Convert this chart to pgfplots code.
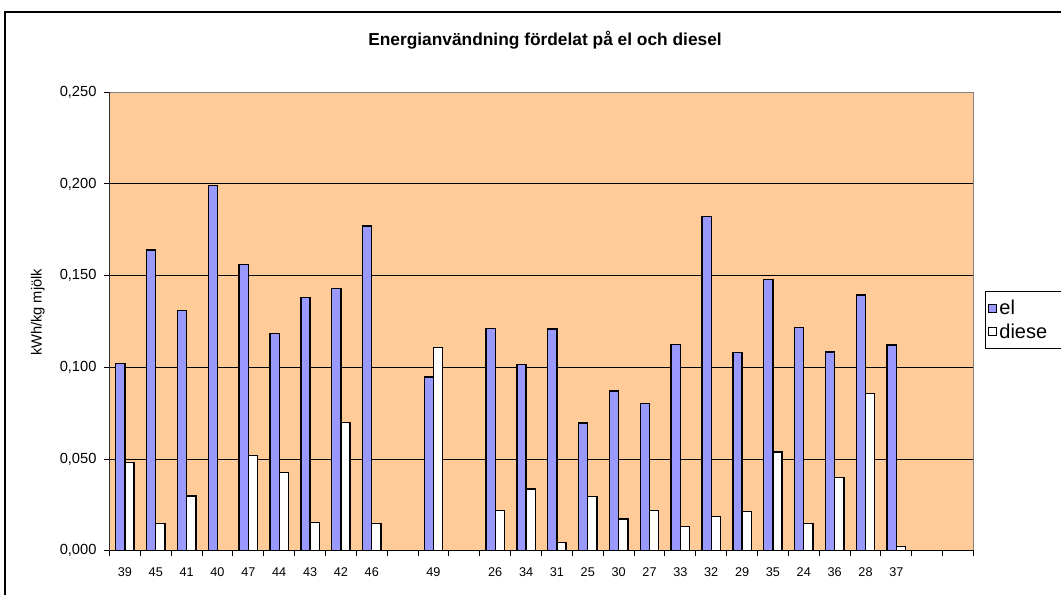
\documentclass[border=0pt]{standalone}
\usepackage{fontspec}
\setmainfont{Liberation Sans}
\usepackage{pgfplots}
\pgfplotsset{compat=1.18}
\definecolor{peach}{HTML}{FFCC99}
\definecolor{elblue}{HTML}{9999FF}
\definecolor{frame}{HTML}{808080}
\begin{document}
\begin{tikzpicture}
\clip (0pt,0pt) rectangle (795.75pt,445.5pt);
\path[use as bounding box] (0pt,0pt) rectangle (795.75pt,445.5pt);
\fill[white] (0pt,0pt) rectangle (795.75pt,445.5pt);
\draw[black, line width=1.1pt] (3.75pt,-20pt) -- (3.75pt,436.5pt) -- (820pt,436.5pt);
\node[font=\bfseries\fontsize{13}{15}\selectfont] at (408.75pt,415.5pt) {Energianvändning fördelat på el och diesel};
\begin{axis}[
  at={(82.125pt,32.4pt)}, anchor=south west,
  width=648pt, height=343.9pt, scale only axis,
  xmin=-0.5, xmax=27.5, ymin=0, ymax=0.25,
  ybar=0pt, bar width=6.9pt,
  axis background/.style={fill=peach},
  axis line style={draw=frame, line width=0.75pt},
  tick pos=left, tick align=outside,
  xtick={0,...,27},
  xticklabels={39,45,41,40,47,44,43,42,46,,49,,26,34,31,25,30,27,33,32,29,35,24,36,28,37,,},
  major x tick style={draw=none},
  minor xtick={-0.5,0.5,...,27.5},
  minor tick length=3.75pt,
  minor x tick style={black, line width=0.75pt},
  xticklabel style={font=\fontsize{9.5}{10}\selectfont, anchor=base, yshift=-15.6pt},
  ytick={0,0.05,0.1,0.15,0.2,0.25},
  major tick length=3.75pt,
  major y tick style={black, line width=0.75pt},
  yticklabel style={font=\fontsize{11}{12}\selectfont, xshift=-2.5pt, /pgf/number format/.cd, fixed, fixed zerofill, precision=3, use comma, assume math mode=true},
  ymajorgrids, grid style={black, line width=0.75pt},
  ylabel={kWh/kg mjölk},
  ylabel style={font=\fontsize{11}{12}\selectfont, at={(axis description cs:-0.083,0.52)}, anchor=center, rotate=0},
  legend style={at={(axis description cs:1.0133,0.566)}, anchor=north west, draw=black, line width=0.75pt, font=\fontsize{15}{18}\selectfont, inner xsep=1.5pt, inner ysep=4.5pt, row sep=1pt, cells={anchor=west}},
]
\addplot[fill=elblue, draw=black, line width=1pt,
  legend image code/.code={\draw[fill=elblue, draw=black, line width=0.75pt] (1pt,-2.5pt) rectangle (7pt,3.5pt);}]
coordinates {
(0,0.102) (1,0.164) (2,0.131) (3,0.199) (4,0.156) (5,0.1186) (6,0.1382) (7,0.1431) (8,0.177)
(10,0.0948) (12,0.1211) (13,0.1017) (14,0.121) (15,0.0697) (16,0.0871) (17,0.0802) (18,0.1124)
(19,0.1822) (20,0.108) (21,0.148) (22,0.1219) (23,0.1084) (24,0.1395) (25,0.1122)
};
\addlegendentry{el}
\addplot[fill=white, draw=black, line width=1pt,
  legend image code/.code={\draw[fill=white, draw=black, line width=0.75pt] (1pt,-2.5pt) rectangle (7pt,3.5pt);}]
coordinates {
(0,0.048) (1,0.015) (2,0.0299) (4,0.052) (5,0.0426) (6,0.0153) (7,0.0698) (8,0.015)
(10,0.1107) (12,0.0219) (13,0.0337) (14,0.0046) (15,0.0295) (16,0.0173) (17,0.0221) (18,0.0134)
(19,0.0186) (20,0.0213) (21,0.0539) (22,0.0148) (23,0.0399) (24,0.0859) (25,0.0025)
};
\addlegendentry{\tikz[baseline=(t.base)]{\path[use as bounding box] (0pt,-4pt) rectangle (3.4em,11pt); \clip (0pt,-5pt) rectangle (2.42em,12pt); \node[inner sep=0pt, anchor=base west] (t) at (0pt,0pt) {diesel};}}
\draw[black, line width=0.75pt] (rel axis cs:0,1) -- (rel axis cs:0,0) -- (rel axis cs:1,0);
\end{axis}
\end{tikzpicture}
\end{document}
